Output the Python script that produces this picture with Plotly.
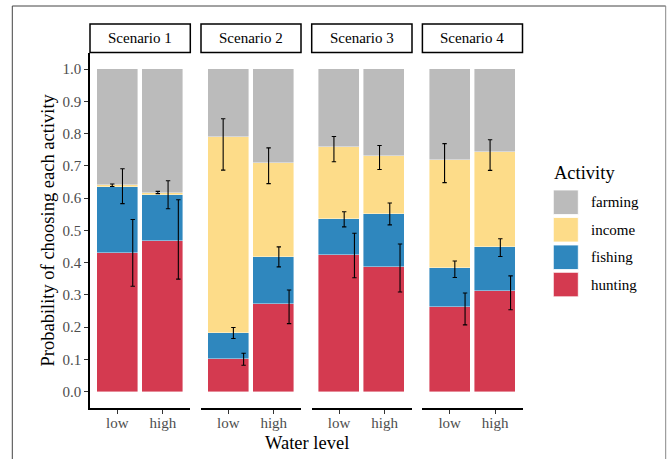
import plotly.graph_objects as go

# ---------------- data ----------------
scenarios = ["Scenario 1", "Scenario 2", "Scenario 3", "Scenario 4"]
water_levels = ["low", "high"]
activities = ["farming", "income", "fishing", "hunting"]

# segment probabilities per scenario: [low, high]
hunting = [[0.430, 0.466], [0.100, 0.272], [0.424, 0.386], [0.264, 0.313]]
fishing = [[0.204, 0.145], [0.083, 0.145], [0.112, 0.166], [0.118, 0.136]]
income = [[0.006, 0.006], [0.606, 0.293], [0.223, 0.180], [0.335, 0.294]]
farming = [[0.360, 0.383], [0.211, 0.290], [0.241, 0.268], [0.283, 0.257]]

# error bar bounds (cumulative scale)
income_lo = [[0.636, 0.614], [0.687, 0.645], [0.713, 0.689], [0.648, 0.686]]
income_hi = [[0.644, 0.621], [0.846, 0.756], [0.791, 0.763], [0.769, 0.781]]
fishing_lo = [[0.583, 0.567], [0.165, 0.387], [0.511, 0.517], [0.354, 0.419]]
fishing_hi = [[0.691, 0.654], [0.199, 0.449], [0.558, 0.585], [0.405, 0.474]]
hunting_lo = [[0.327, 0.349], [0.082, 0.211], [0.353, 0.309], [0.207, 0.254]]
hunting_hi = [[0.534, 0.595], [0.119, 0.315], [0.491, 0.458], [0.306, 0.359]]

colors = {"farming": "#BBBBBB", "income": "#FDDC89", "fishing": "#2F87BE", "hunting": "#D43A50"}

# ---------------- layout helpers ----------------
W, H = 667, 459
FONT = "Liberation Serif"


def px(x):
    return x / W


def py(y):
    return 1 - y / H


panel_px = [(90, 190.3), (201, 301), (311.7, 412), (422.4, 522.5)]
y_top, y_bot = 53.0, 407.8

fig = go.Figure()

seg_data = {"hunting": hunting, "fishing": fishing, "income": income, "farming": farming}
stack_order = ["hunting", "fishing", "income", "farming"]
err_data = {
    "income": (income_lo, income_hi, -0.1125),
    "fishing": (fishing_lo, fishing_hi, 0.1125),
    "hunting": (hunting_lo, hunting_hi, 0.3375),
}
xpos = [1, 2]

for i in range(4):
    xa = "x" if i == 0 else f"x{i+1}"
    ya = "y" if i == 0 else f"y{i+1}"
    for act in stack_order:
        fig.add_trace(go.Bar(
            x=xpos, y=seg_data[act][i], width=0.9,
            marker=dict(color=colors[act], line=dict(color="rgba(255,255,255,0.7)", width=0.6)),
            xaxis=xa, yaxis=ya, showlegend=False, name=act, hoverinfo="skip",
        ))
    # cumulative tops
    cum = {}
    run = [0.0, 0.0]
    for act in stack_order:
        run = [run[k] + seg_data[act][i][k] for k in range(2)]
        cum[act] = list(run)
    for act, (lo, hi, off) in err_data.items():
        tops = cum[act]
        fig.add_trace(go.Scatter(
            x=[xv + off for xv in xpos], y=tops, mode="markers",
            marker=dict(size=1, color="rgba(0,0,0,0)"),
            error_y=dict(type="data", symmetric=False,
                         array=[hi[i][k] - tops[k] for k in range(2)],
                         arrayminus=[tops[k] - lo[i][k] for k in range(2)],
                         color="black", thickness=1.1, width=2.2),
            xaxis=xa, yaxis=ya, showlegend=False, hoverinfo="skip",
        ))

layout = dict(
    width=W, height=H, margin=dict(l=0, r=0, t=0, b=0),
    paper_bgcolor="white", plot_bgcolor="white",
    barmode="stack", bargap=0, showlegend=False,
    font=dict(family=FONT, size=15, color="black"),
)

for i in range(4):
    xk = "xaxis" if i == 0 else f"xaxis{i+1}"
    yk = "yaxis" if i == 0 else f"yaxis{i+1}"
    x0, x1 = panel_px[i]
    layout[xk] = dict(
        domain=[px(x0), px(x1)], range=[0.4, 2.6],
        tickvals=xpos, ticktext=water_levels,
        showline=True, linecolor="black", linewidth=1.5,
        ticks="outside", ticklen=4, tickcolor="#333333", tickwidth=1.2,
        ticklabelstandoff=-4,
        tickfont=dict(family=FONT, size=15, color="#4D4D4D"),
        showgrid=False, zeroline=False, fixedrange=True,
        anchor="y" if i == 0 else f"y{i+1}",
    )
    yd = dict(
        domain=[py(y_bot), py(y_top)], range=[-0.05, 1.05],
        showgrid=False, zeroline=False, fixedrange=True,
        anchor="x" if i == 0 else f"x{i+1}",
    )
    if i == 0:
        yd.update(
            tickvals=[k / 10 for k in range(11)],
            ticktext=[f"{k/10:.1f}" for k in range(11)],
            showline=True, linecolor="black", linewidth=1.5,
            ticks="outside", ticklen=4, tickcolor="#333333", tickwidth=1.2,
            tickfont=dict(family=FONT, size=15, color="#4D4D4D"),
        )
    else:
        yd.update(showticklabels=False, showline=False, ticks="")
    layout[yk] = yd

shapes = []
annotations = []

# strips
for i in range(4):
    x0, x1 = panel_px[i]
    shapes.append(dict(type="rect", xref="paper", yref="paper",
                       x0=px(x0), x1=px(x1), y0=py(52.5), y1=py(24),
                       line=dict(color="black", width=1.5), fillcolor="white", layer="above"))
    annotations.append(dict(xref="paper", yref="paper", x=px((x0 + x1) / 2), y=py(38.3),
                            text=scenarios[i], showarrow=False, xanchor="center", yanchor="middle",
                            font=dict(family=FONT, size=15, color="black")))

# axis titles
annotations.append(dict(xref="paper", yref="paper", x=px(306.5), y=py(443), text="Water level",
                        showarrow=False, xanchor="center", yanchor="middle",
                        font=dict(family=FONT, size=18.5, color="black")))
annotations.append(dict(xref="paper", yref="paper", x=px(47), y=py(230.5),
                        text="Probability of choosing each activity", textangle=-90,
                        showarrow=False, xanchor="center", yanchor="middle",
                        font=dict(family=FONT, size=18.5, color="black")))

# legend (manual)
annotations.append(dict(xref="paper", yref="paper", x=px(551.5), y=py(172.5), text="Activity",
                        showarrow=False, xanchor="left", yanchor="middle",
                        font=dict(family=FONT, size=18.5, color="black")))
key_tops = [190, 217.5, 245, 272.3]
for act, kt in zip(activities, key_tops):
    shapes.append(dict(type="rect", xref="paper", yref="paper",
                       x0=px(553.3), x1=px(578.3), y0=py(kt + 24.5), y1=py(kt),
                       line=dict(color="white", width=0.8), fillcolor=colors[act]))
    annotations.append(dict(xref="paper", yref="paper", x=px(588.5), y=py(kt + 12.2), text=act,
                            showarrow=False, xanchor="left", yanchor="middle",
                            font=dict(family=FONT, size=15, color="black")))

# outer frame
shapes.append(dict(type="line", xref="paper", yref="paper", x0=px(12.3), x1=px(12.3), y0=0, y1=py(6),
                   line=dict(color="#444444", width=1)))
shapes.append(dict(type="line", xref="paper", yref="paper", x0=px(12.3), x1=px(665.7), y0=py(6), y1=py(6),
                   line=dict(color="#444444", width=1)))
shapes.append(dict(type="line", xref="paper", yref="paper", x0=px(665.7), x1=px(665.7), y0=0, y1=py(6),
                   line=dict(color="#888888", width=1)))

layout["shapes"] = shapes
layout["annotations"] = annotations
fig.update_layout(**layout)

fig.write_html(
    "out.html",
    config={"displayModeBar": False},
    post_script="document.body.style.margin='0';document.body.style.padding='0';"
                "document.body.style.overflow='hidden';",
)
